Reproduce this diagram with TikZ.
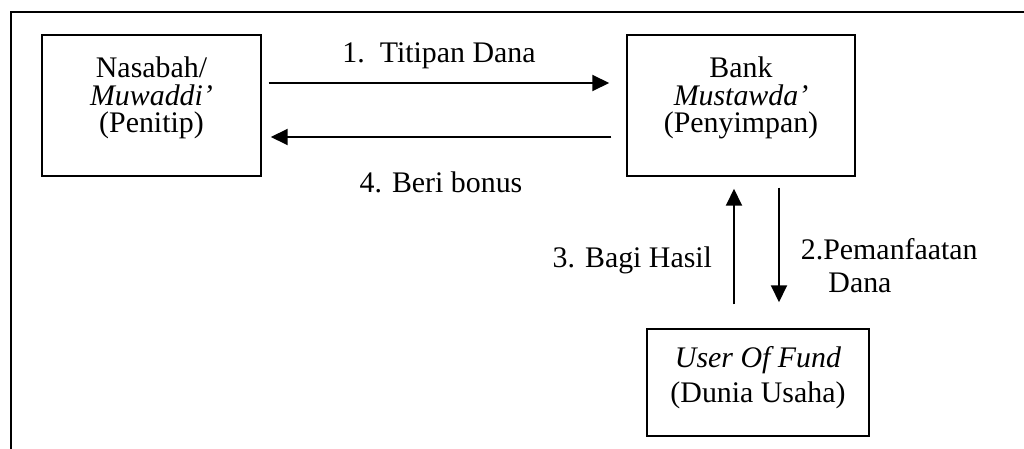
\documentclass[tikz,border=0pt]{standalone}
\usepackage{fontspec}
\setmainfont{Liberation Serif}
\usetikzlibrary{arrows.meta,positioning,calc}

\begin{document}
\begin{tikzpicture}[
    box/.style={draw, line width=0.85pt, minimum width=4.38cm, minimum height=2.82cm, align=center, inner sep=0pt, font=\fontsize{17}{15.6}\selectfont, text depth=12pt},
    arr/.style={-{Triangle[length=0.34cm, width=0.32cm]}, line width=1.1pt},
    lbl/.style={font=\fontsize{17}{18.7}\selectfont, inner sep=0pt},
    frame/.style={line width=1.15pt}
]
\useasboundingbox (0,0) rectangle (20.48,-8.98);
\draw[frame] (0.22,-8.98) |- (20.48,-0.24);

\node[box] (nas) at (3.03,-2.11) {Nasabah/\\\textit{Muwaddi'}\\(Penitip)};
\node[box, minimum width=4.56cm] (bank) at (14.82,-2.11) {Bank\\\textit{Mustawda'}\\(Penyimpan)};
\node[box, minimum width=4.44cm, minimum height=2.14cm, font=\fontsize{17}{19.8}\selectfont, text depth=9.5pt] (user) at (15.16,-7.65) {\textit{User Of Fund}\\(Dunia Usaha)};

\draw[arr] ([xshift=0.14cm,yshift=0.45cm]nas.east) -- node[lbl, above=0.27cm] {1.\hspace{0.3cm}Titipan Dana} ([xshift=-0.34cm,yshift=0.45cm]bank.west);
\draw[arr] ([xshift=-0.3cm,yshift=-0.63cm]bank.west) -- node[lbl, below=0.68cm] {4. Beri bonus} ([xshift=0.18cm,yshift=-0.63cm]nas.east);
\draw[arr] ([xshift=-0.48cm,yshift=0.48cm]user.north) -- node[lbl, pos=0.376, left=0.42cm] {3. Bagi Hasil} ([xshift=-0.14cm,yshift=-0.24cm]bank.south);
\draw[arr] ([xshift=0.76cm,yshift=-0.22cm]bank.south) -- node[lbl, pos=0.68, right=0.42cm, align=left] {2.Pemanfaatan\\\hspace*{0.55cm}Dana} ([xshift=0.42cm,yshift=0.52cm]user.north);
\end{tikzpicture}
\end{document}
